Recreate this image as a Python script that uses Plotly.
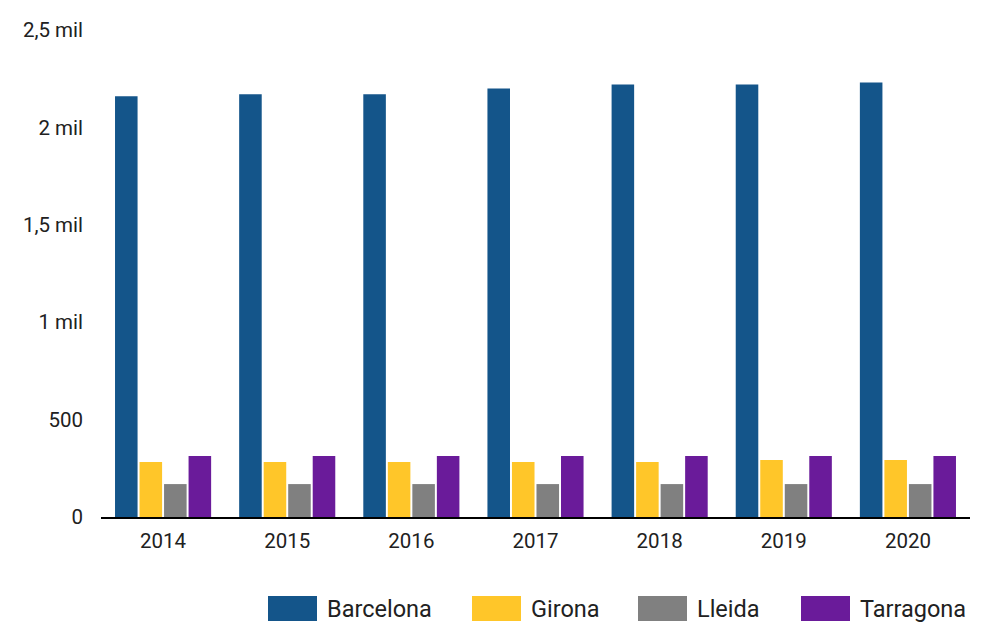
import plotly.graph_objects as go

# Data (thousands)
years = ["2014", "2015", "2016", "2017", "2018", "2019", "2020"]
barcelona = [2160, 2170, 2170, 2200, 2220, 2220, 2230]
girona = [282, 282, 282, 282, 282, 293, 293]
lleida = [169, 169, 169, 169, 169, 169, 169]
tarragona = [313, 313, 313, 313, 313, 313, 313]

series_names = ["Barcelona", "Girona", "Lleida", "Tarragona"]
series_values = [barcelona, girona, lleida, tarragona]
series_colors = ["#14558A", "#FFC629", "#808080", "#6A1B9A"]

tick_vals = [0, 500, 1000, 1500, 2000, 2500]
tick_text = ["0", "500", "1 mil", "1,5 mil", "2 mil", "2,5 mil"]

W, H = 988, 622
ML, MR, MT, MB = 101, 18, 30, 105
PW, PH = W - ML - MR, H - MT - MB

FONT = "Roboto"
TEXT_COLOR = "#212121"

fig = go.Figure()
for name, vals, col in zip(series_names, series_values, series_colors):
    fig.add_trace(go.Bar(x=years, y=vals, name=name, marker=dict(color=col, line=dict(width=0)),
                         showlegend=False))

# Custom legend row below the plot (pixel layout converted to paper coords)
def px_x(px):
    return (px - ML) / PW

def px_y(py):
    return (H - MB - py) / PH

legend_swatch_left = [268, 472, 638, 801]
sw_w, sw_top, sw_bot = 49, 596, 621
shapes = []
annotations = []
for name, col, left in zip(series_names, series_colors, legend_swatch_left):
    shapes.append(dict(type="rect", xref="paper", yref="paper",
                       x0=px_x(left), x1=px_x(left + sw_w),
                       y0=px_y(sw_bot), y1=px_y(sw_top),
                       fillcolor=col, line=dict(width=0)))
    annotations.append(dict(xref="paper", yref="paper", x=px_x(left + sw_w + 8),
                            y=px_y((sw_top + sw_bot) / 2), text=name, showarrow=False,
                            xanchor="left", yanchor="middle",
                            font=dict(family=FONT, size=23.5, color=TEXT_COLOR)))

fig.update_layout(
    width=W, height=H,
    margin=dict(l=ML, r=MR, t=MT, b=MB),
    paper_bgcolor="white", plot_bgcolor="white",
    barmode="group", bargap=0.21, bargroupgap=0.08,
    font=dict(family=FONT, size=20, color=TEXT_COLOR),
    shapes=shapes, annotations=annotations,
    xaxis=dict(showgrid=False, showline=True, linecolor="#000000", linewidth=2,
               ticks="", ticklabelstandoff=4, tickfont=dict(size=20.5, color=TEXT_COLOR)),
    yaxis=dict(range=[0, 2500], showgrid=False, zeroline=False, showline=False,
               tickvals=tick_vals, ticktext=tick_text, ticks="",
               ticklabelstandoff=17, tickfont=dict(size=20.5, color=TEXT_COLOR)),
)

fig.write_html("out.html")
